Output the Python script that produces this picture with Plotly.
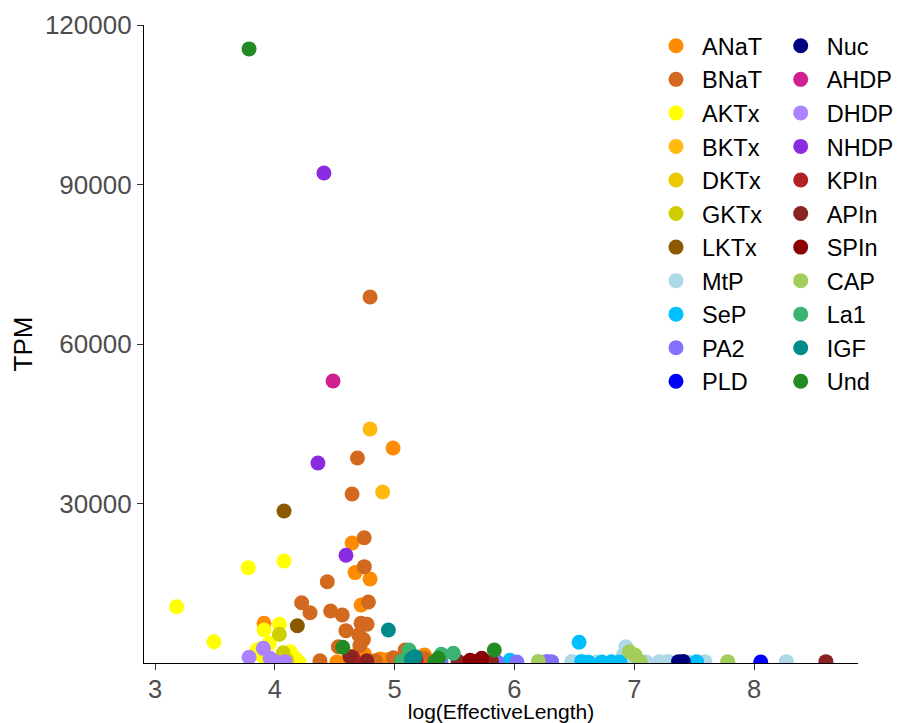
import plotly.graph_objects as go

# Transcript groups, in legend order, with their colours
groups = ["ANaT", "BNaT", "AKTx", "BKTx", "DKTx", "GKTx", "LKTx", "MtP", "SeP", "PA2", "PLD",
          "Nuc", "AHDP", "DHDP", "NHDP", "KPIn", "APIn", "SPIn", "CAP", "La1", "IGF", "Und"]
colors = ["#FF8C00", "#D2691E", "#FFFF00", "#FFB90F", "#EEC900", "#CDCD00", "#8B5A00",
          "#ADD8E6", "#00BFFF", "#8470FF", "#0000FF", "#000080", "#D02090", "#AB82FF",
          "#8A2BE2", "#B22222", "#8B2323", "#8B0000", "#A2CD5A", "#3CB371", "#008B8B", "#228B22"]

# log(EffectiveLength) and TPM per group
log_len = {
    "ANaT": [4.987, 4.645, 4.67, 4.795, 4.72, 3.91, 4.75, 4.68, 4.71, 4.517, 4.586, 4.878, 4.934, 5.25],
    "BNaT": [4.795, 4.69, 4.645, 4.746, 4.747, 4.438, 4.781, 4.224, 4.294, 4.466, 4.563, 4.594,
             4.72, 4.77, 4.70, 4.74, 4.71, 4.53, 4.377, 4.99, 5.087, 5.21, 5.25, 4.84, 5.03],
    "AKTx": [3.181, 3.492, 3.779, 4.077, 4.038, 3.91, 3.954, 3.876, 3.85, 4.127, 3.89, 4.113,
             4.17, 3.93, 4.0, 4.2],
    "BKTx": [4.795, 4.90],
    "DKTx": [4.05],
    "GKTx": [4.038, 4.07, 4.1],
    "LKTx": [4.077, 4.188],
    "MtP": [6.48, 6.687, 6.93, 6.91, 6.99, 7.1, 7.21, 7.28, 7.59, 8.27, 6.6, 7.45],
    "SeP": [6.54, 6.56, 6.73, 6.81, 6.88, 7.52, 5.963, 6.62],
    "PA2": [5.387, 5.85, 6.02, 6.27, 6.31],
    "PLD": [8.056],
    "Nuc": [7.37, 7.41],
    "AHDP": [4.486],
    "DHDP": [3.785, 3.904, 3.96, 4.016, 4.085],
    "NHDP": [4.41, 4.36, 4.594],
    "KPIn": [4.655, 4.65, 5.156, 5.179],
    "APIn": [4.628, 4.767, 5.53, 5.81, 8.6, 5.06],
    "SPIn": [5.63, 5.727, 5.68],
    "CAP": [6.2, 6.96, 7.007, 7.78, 7.05],
    "La1": [5.12, 5.06, 5.39, 5.49],
    "IGF": [4.948, 5.14, 5.17],
    "Und": [3.785, 4.567, 5.365, 5.337, 5.832],
}
tpm = {
    "ANaT": [40440, 22570, 17000, 15800, 10910, 7470, 1630, 1500, 1820, 200, 250, 750, 600, 1500],
    "BNaT": [68850, 38560, 31790, 23570, 18120, 15290, 11470, 11340, 9460, 9780, 9030, 6080,
             7500, 7300, 5300, 4400, 3300, 3070, 400, 1000, 2450, 880, 900, 400, 300],
    "AKTx": [10590, 4010, 17930, 19190, 7280, 6210, 3700, 2630, 2450, 2130, 1500, 1190,
             880, 500, 300, 200],
    "BKTx": [44000, 32170],
    "DKTx": [700],
    "GKTx": [5400, 1940, 500],
    "LKTx": [28590, 7020],
    "MtP": [300, 200, 3070, 1500, 300, 200, 250, 300, 250, 250, 200, 200],
    "SeP": [3890, 300, 200, 250, 200, 250, 500, 150],
    "PA2": [380, 300, 200, 300, 250],
    "PLD": [200],
    "Nuc": [250, 300],
    "AHDP": [53040],
    "DHDP": [1070, 2760, 880, 200, 250],
    "NHDP": [92170, 37620, 20260],
    "KPIn": [380, 1070, 400, 560],
    "APIn": [1190, 430, 300, 300, 250, 300],
    "SPIn": [500, 880, 300],
    "CAP": [300, 2130, 1500, 250, 300],
    "La1": [2450, 380, 1630, 1820],
    "IGF": [6210, 750, 1190],
    "Und": [115500, 2950, 880, 300, 2450],
}

x_ticks = [3, 4, 5, 6, 7, 8]
y_ticks = [30000, 60000, 90000, 120000]
y_labels = ["30000", "60000", "90000", "120000"]

FONT = "Liberation Sans, Arial, Helvetica, sans-serif"

fig = go.Figure()
for i, (g, c) in enumerate(zip(groups, colors)):
    fig.add_trace(go.Scatter(
        x=log_len[g], y=tpm[g], mode="markers", name=g,
        marker=dict(color=c, size=15, line=dict(width=0)),
        legend="legend" if i < 11 else "legend2",
    ))

# plot area spans 144..858 px horizontally and 25..663 px vertically
PX_L, PX_W, PX_T, PX_H = 144, 714, 25, 638
legend_top = 1 - (24 - PX_T) / PX_H

legend_common = dict(
    xref="paper", yref="paper", xanchor="left", yanchor="top",
    font=dict(family=FONT, size=23.5, color="black"),
    itemwidth=42, bgcolor="rgba(0,0,0,0)", borderwidth=0, tracegroupgap=0,
    maxheight=500,
)

fig.update_layout(
    width=907, height=723, autosize=False,
    margin=dict(l=144, r=49, t=25, b=60, autoexpand=False),
    paper_bgcolor="white", plot_bgcolor="white",
    font=dict(family=FONT),
    showlegend=True,
    legend=dict(x=(650 - PX_L) / PX_W, y=legend_top, **legend_common),
    legend2=dict(x=(774.7 - PX_L) / PX_W, y=legend_top, **legend_common),
    xaxis=dict(
        range=[2.908, 8.868], tickvals=x_ticks, ticktext=[str(v) for v in x_ticks],
        showgrid=False, zeroline=False, showline=True, linecolor="black", linewidth=1.3,
        ticks="outside", ticklen=6, tickwidth=1.2, tickcolor="#333333",
        tickfont=dict(family=FONT, size=25.5, color="#4D4D4D"), ticklabelstandoff=-3,
        title=dict(text="log(EffectiveLength)", font=dict(family=FONT, size=21, color="black"),
                   standoff=5),
        automargin=False,
    ),
    yaxis=dict(
        range=[0, 120000], tickvals=y_ticks, ticktext=y_labels,
        showgrid=False, zeroline=False, showline=True, linecolor="black", linewidth=1.3,
        ticks="outside", ticklen=6, tickwidth=1.2, tickcolor="#333333",
        tickfont=dict(family=FONT, size=26, color="#4D4D4D"),
        title=dict(text="TPM", font=dict(family=FONT, size=26, color="black"), standoff=4),
        automargin=False,
    ),
)

fig.write_html("out.html")
